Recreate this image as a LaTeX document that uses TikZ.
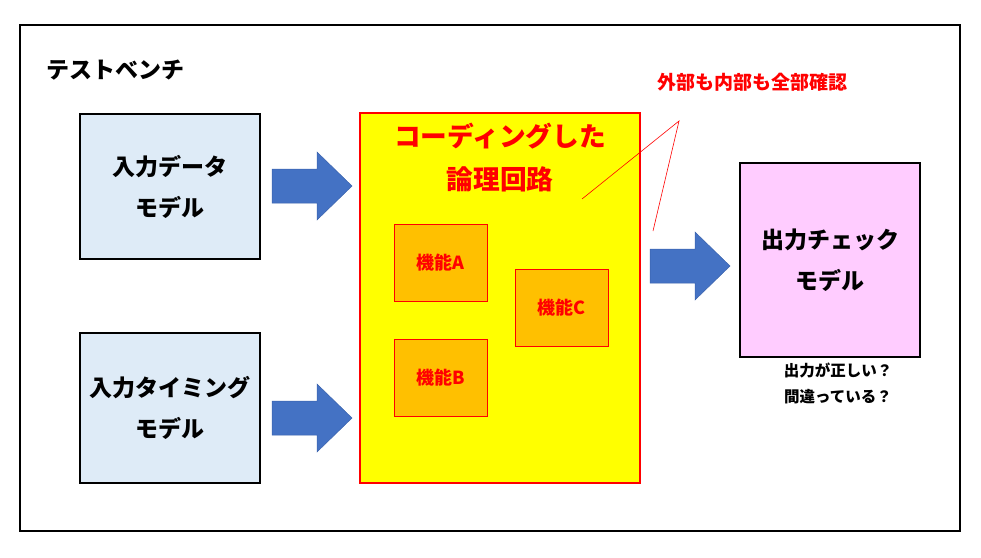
\documentclass[tikz,border=0pt]{standalone}
\usepackage{fontspec}
\setmainfont{Noto Sans CJK JP}
\usetikzlibrary{positioning}

\definecolor{modelblue}{HTML}{DEEBF7}
\definecolor{checkpink}{HTML}{FFCCFF}
\definecolor{funcorange}{HTML}{FFC000}
\definecolor{circyellow}{HTML}{FFFF00}
\definecolor{arrowblue}{HTML}{4472C4}
\definecolor{arrowedge}{HTML}{3A62AC}

\tikzset{
	model/.style={draw=black, line width=1.5pt, fill=modelblue, align=center,
		font=\fontsize{23}{41}\selectfont\bfseries},
	func/.style={draw=red, line width=0.8pt, fill=funcorange, text=red,
		minimum width=93, minimum height=77, font=\fontsize{18}{22}\selectfont\bfseries},
	blockarrow/.style={fill=arrowblue, draw=arrowedge, line width=0.5pt}
}

\begin{document}
\begin{tikzpicture}[x=1pt,y=-1pt]

			\useasboundingbox (0,0) rectangle (981,557);
			\draw[line width=1.5pt] (20,25) rectangle (960,531);

			\node[anchor=west, font=\fontsize{23}{28}\selectfont\bfseries] (bench) at (43,70) {テストベンチ};

			% input models
			\node[model, minimum width=180, minimum height=145] (datamodel) at (170,186.5) {入力データ\\モデル};
			\node[model, minimum width=180, minimum height=150] (timemodel) at (170,408) {入力タイミング\\モデル};

			% circuit under test
			\node[draw=red, line width=1.5pt, fill=circyellow, minimum width=280, minimum height=370] (circuit) at (500,298) {};
			\node[text=red, align=center, font=\fontsize{26.7}{43}\selectfont\bfseries] (circtitle) at (500,158) {コーディングした\\論理回路};

			\node[func] (funca) at (440.5,263) {機能A};
			\node[func] (funcb) at (440.5,378) {機能B};
			\node[func] (funcc) at (561.5,307.5) {機能C};

			% output checker
			\node[model, fill=checkpink, minimum width=180, minimum height=194] (checkmodel) at (830,260) {出力チェック\\モデル};
			\node[align=center, font=\fontsize{15.5}{26}\selectfont\bfseries] (question) at (838,383) {出力が正しい？\\間違っている？};

			% block arrows
			\foreach \ax/\ay in {272/186, 272/418, 650/266} {
				\draw[blockarrow] (\ax,\ay) ++(0,-17) -- ++(45,0) -- ++(0,-17) -- ++(35,34)
					-- ++(-35,34) -- ++(0,-17) -- ++(-45,0) -- cycle;
			}

			% callout
			\node[text=red, font=\fontsize{19}{23}\selectfont\bfseries] (callout) at (752,82) {外部も内部も全部確認};
			\coordinate (apex) at (679,121);
			\coordinate (inner) at (582,199);
			\coordinate (outer) at (653,231);
			\draw[red, line width=0.6pt] (inner) -- (apex) -- (outer);

		\end{tikzpicture}
\end{document}
